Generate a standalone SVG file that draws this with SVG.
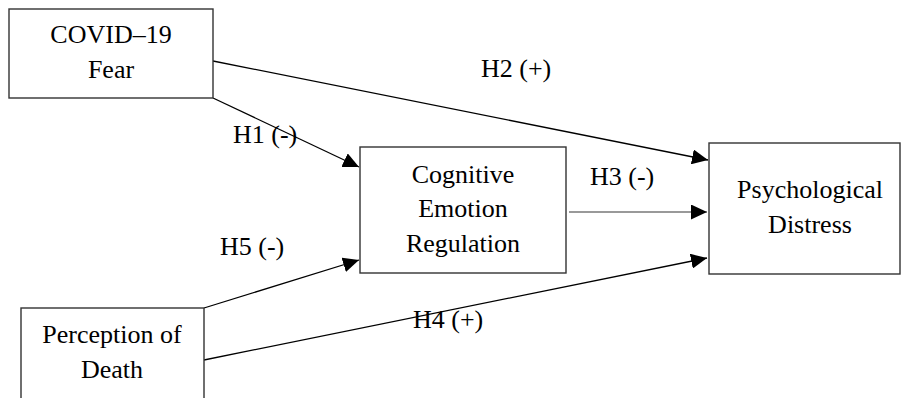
<svg xmlns="http://www.w3.org/2000/svg" width="904" height="398" viewBox="0 0 904 398">
<style>
.box{fill:#fff;stroke:#333;stroke-width:1.4}
text{font-family:'Liberation Serif','Times New Roman',Times,serif;font-size:26px;fill:#000}
.c{text-anchor:middle}
.ln{stroke:#000;stroke-width:1.3;fill:none}
.gr{stroke:#777;stroke-width:1.3;fill:none}
</style>
<defs>
<marker id="ah" markerUnits="userSpaceOnUse" markerWidth="17" markerHeight="15" refX="16" refY="7.5" orient="auto">
<path d="M0,0 L16,7.5 L0,15 z" fill="#000"/>
</marker>
</defs>
<rect width="904" height="398" fill="#fff"/>
<g id="connectors">
<line class="ln" x1="213" y1="61" x2="708" y2="160" marker-end="url(#ah)"/>
<line class="ln" x1="213" y1="98" x2="359" y2="167" marker-end="url(#ah)"/>
<line class="gr" x1="569" y1="212" x2="707" y2="212" marker-end="url(#ah)"/>
<line class="ln" x1="204" y1="308" x2="359" y2="260" marker-end="url(#ah)"/>
<line class="ln" x1="204" y1="360" x2="707" y2="258" marker-end="url(#ah)"/>
<text font-family="Liberation Serif, serif" x="481" y="77">H2 (+)</text>
<text font-family="Liberation Serif, serif" x="233" y="143">H1 (-)</text>
<text font-family="Liberation Serif, serif" x="590" y="185">H3 (-)</text>
<text font-family="Liberation Serif, serif" x="220" y="255">H5 (-)</text>
<text font-family="Liberation Serif, serif" x="413" y="328">H4 (+)</text>
</g>
<g id="covid">
<rect class="box" x="9" y="9" width="204" height="89"/>
<text class="c" x="111" y="43">COVID–19</text>
<text class="c" x="111" y="78">Fear</text>
</g>
<g id="cognitive">
<rect class="box" x="360" y="147" width="206" height="126"/>
<text class="c" x="463" y="183">Cognitive</text>
<text class="c" x="463" y="217">Emotion</text>
<text class="c" x="463" y="252">Regulation</text>
</g>
<g id="distress">
<rect class="box" x="709" y="143" width="191" height="131"/>
<text class="c" x="810" y="198">Psychological</text>
<text class="c" x="810" y="233">Distress</text>
</g>
<g id="death">
<rect class="box" x="21" y="308" width="183" height="100"/>
<text class="c" x="112" y="343">Perception of</text>
<text class="c" x="112" y="378">Death</text>
</g>
</svg>
